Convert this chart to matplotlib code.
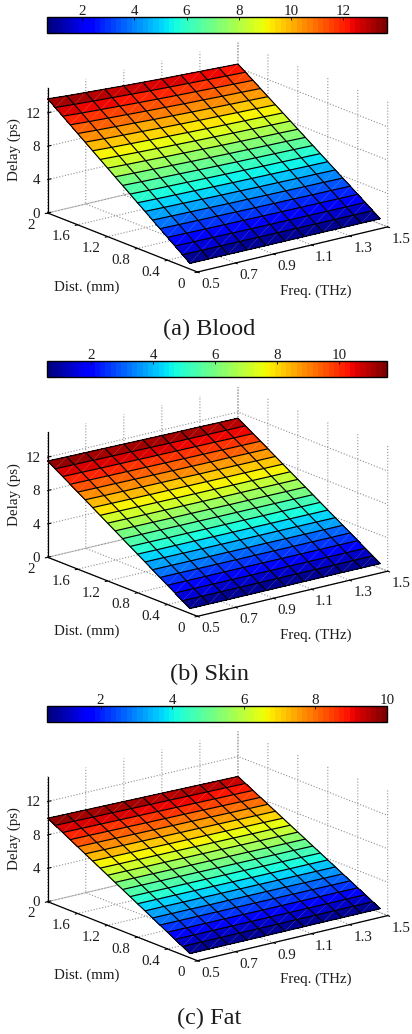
import numpy as np
import matplotlib
matplotlib.use("Agg")
import matplotlib.pyplot as plt
from matplotlib.text import Text
from mpl_toolkits.mplot3d import proj3d

plt.rcParams['font.family'] = ['Liberation Serif', 'DejaVu Serif']
plt.rcParams['grid.linestyle'] = ':'
plt.rcParams['grid.linewidth'] = 0.8
plt.rcParams['grid.color'] = '#909090'

freq_thz = [0.5, 0.6, 0.7, 0.8, 0.9, 1.0, 1.1, 1.2, 1.3, 1.4, 1.5]
dist_mm = [0.1, 0.2, 0.3, 0.4, 0.5, 0.6, 0.7, 0.8, 0.9, 1.0, 1.1, 1.2, 1.3, 1.4, 1.5, 1.6, 1.7, 1.8, 1.9, 2.0]

delay_blood = [
[.68,.68,.67,.66,.65,.65,.64,.64,.63,.63,.62],
[1.37,1.35,1.34,1.32,1.31,1.30,1.28,1.27,1.26,1.25,1.24],
[2.05,2.03,2.00,1.98,1.96,1.94,1.93,1.91,1.90,1.88,1.87],
[2.74,2.70,2.67,2.64,2.62,2.59,2.57,2.55,2.53,2.51,2.49],
[3.42,3.38,3.34,3.31,3.27,3.24,3.21,3.19,3.16,3.14,3.11],
[4.10,4.05,4.01,3.97,3.92,3.89,3.85,3.82,3.79,3.76,3.73],
[4.79,4.73,4.68,4.63,4.58,4.54,4.49,4.46,4.42,4.39,4.35],
[5.47,5.40,5.34,5.29,5.23,5.18,5.14,5.10,5.06,5.02,4.98],
[6.16,6.08,6.01,5.95,5.89,5.83,5.78,5.73,5.69,5.64,5.60],
[6.84,6.75,6.68,6.61,6.54,6.48,6.42,6.37,6.32,6.27,6.22],
[7.52,7.43,7.35,7.27,7.19,7.13,7.06,7.01,6.95,6.90,6.84],
[8.21,8.10,8.02,7.93,7.85,7.78,7.70,7.64,7.58,7.52,7.46],
[8.89,8.78,8.68,8.59,8.50,8.42,8.35,8.28,8.22,8.15,8.09],
[9.58,9.45,9.35,9.25,9.16,9.07,8.99,8.92,8.85,8.78,8.71],
[10.26,10.13,10.02,9.92,9.81,9.72,9.63,9.56,9.48,9.41,9.33],
[10.94,10.80,10.69,10.58,10.46,10.37,10.27,10.19,10.11,10.03,9.95],
[11.63,11.48,11.36,11.24,11.12,11.02,10.91,10.83,10.74,10.66,10.57],
[12.31,12.15,12.02,11.90,11.77,11.66,11.56,11.47,11.38,11.29,11.20],
[13.00,12.83,12.69,12.56,12.43,12.31,12.20,12.10,12.01,11.91,11.82],
[13.68,13.50,13.36,13.22,13.08,12.96,12.84,12.74,12.64,12.54,12.44],
]
delay_skin = [
[.58,.58,.57,.57,.57,.57,.57,.57,.57,.56,.56],
[1.15,1.15,1.15,1.14,1.14,1.14,1.14,1.13,1.13,1.13,1.13],
[1.73,1.73,1.72,1.72,1.71,1.71,1.70,1.70,1.70,1.69,1.69],
[2.31,2.30,2.29,2.29,2.28,2.28,2.27,2.27,2.26,2.26,2.25],
[2.89,2.88,2.87,2.86,2.85,2.85,2.84,2.83,2.83,2.82,2.82],
[3.46,3.45,3.44,3.43,3.42,3.41,3.41,3.40,3.39,3.38,3.38],
[4.04,4.03,4.01,4.00,3.99,3.98,3.97,3.97,3.96,3.95,3.94],
[4.62,4.60,4.59,4.58,4.56,4.55,4.54,4.53,4.52,4.51,4.50],
[5.19,5.18,5.16,5.15,5.13,5.12,5.11,5.10,5.09,5.08,5.07],
[5.77,5.75,5.74,5.72,5.71,5.69,5.68,5.67,5.66,5.64,5.63],
[6.35,6.33,6.31,6.29,6.28,6.26,6.24,6.23,6.22,6.20,6.19],
[6.92,6.90,6.88,6.86,6.85,6.83,6.81,6.80,6.79,6.77,6.76],
[7.50,7.48,7.46,7.44,7.42,7.40,7.38,7.36,7.35,7.33,7.32],
[8.08,8.05,8.03,8.01,7.99,7.97,7.95,7.93,7.92,7.90,7.88],
[8.66,8.63,8.60,8.58,8.56,8.54,8.51,8.50,8.48,8.46,8.45],
[9.23,9.20,9.18,9.15,9.13,9.10,9.08,9.06,9.05,9.02,9.01],
[9.81,9.78,9.75,9.72,9.70,9.67,9.65,9.63,9.61,9.59,9.57],
[10.39,10.35,10.32,10.30,10.27,10.24,10.22,10.20,10.18,10.15,10.13],
[10.96,10.93,10.90,10.87,10.84,10.81,10.78,10.76,10.74,10.72,10.70],
[11.54,11.50,11.47,11.44,11.41,11.38,11.35,11.33,11.31,11.28,11.26],
]
delay_fat = [
[.50,.50,.50,.49,.49,.49,.49,.49,.48,.48,.48],
[1.00,1.00,.99,.99,.98,.98,.98,.97,.97,.96,.96],
[1.50,1.49,1.49,1.48,1.48,1.47,1.46,1.46,1.45,1.45,1.44],
[2.00,1.99,1.98,1.98,1.97,1.96,1.95,1.94,1.94,1.93,1.92],
[2.50,2.49,2.48,2.47,2.46,2.45,2.44,2.43,2.42,2.41,2.40],
[3.00,2.99,2.98,2.96,2.95,2.94,2.93,2.92,2.90,2.89,2.88],
[3.50,3.49,3.47,3.46,3.44,3.43,3.42,3.40,3.39,3.37,3.36],
[4.00,3.98,3.97,3.95,3.94,3.92,3.90,3.89,3.87,3.86,3.84],
[4.50,4.48,4.46,4.45,4.43,4.41,4.39,4.37,4.36,4.34,4.32],
[5.00,4.98,4.96,4.94,4.92,4.90,4.88,4.86,4.84,4.82,4.80],
[5.50,5.48,5.46,5.43,5.41,5.39,5.37,5.35,5.32,5.30,5.28],
[6.00,5.98,5.95,5.93,5.90,5.88,5.86,5.83,5.81,5.78,5.76],
[6.50,6.47,6.45,6.42,6.40,6.37,6.34,6.32,6.29,6.27,6.24],
[7.00,6.97,6.94,6.92,6.89,6.86,6.83,6.80,6.78,6.75,6.72],
[7.50,7.47,7.44,7.41,7.38,7.35,7.32,7.29,7.26,7.23,7.20],
[8.00,7.97,7.94,7.90,7.87,7.84,7.81,7.78,7.74,7.71,7.68],
[8.50,8.47,8.43,8.40,8.36,8.33,8.30,8.26,8.23,8.19,8.16],
[9.00,8.96,8.93,8.89,8.86,8.82,8.78,8.75,8.71,8.68,8.64],
[9.50,9.46,9.42,9.39,9.35,9.31,9.27,9.23,9.20,9.16,9.12],
[10.00,9.96,9.92,9.88,9.84,9.80,9.76,9.72,9.68,9.64,9.60],
]
panels = ["(a) Blood", "(b) Skin", "(c) Fat"]
cbar_ticks = [[2, 4, 6, 8, 10, 12], [2, 4, 6, 8, 10], [2, 4, 6, 8, 10]]
cbar_limits = [(0.656, 13.68), (0.576, 11.54), (0.506, 10.0)]
freq_ticks = [0.5, 0.7, 0.9, 1.1, 1.3, 1.5]
dist_ticks = [0, 0.4, 0.8, 1.2, 1.6, 2]
delay_ticks = [0, 4, 8, 12]
dist_tick_labels = ["0", "0.4", "0.8", "1.2", "1.6", "2"]

W, H = 412, 1034
FS = 10.8
TXT = '#1c1c1c'
fig = plt.figure(figsize=(W / 100, H / 100), dpi=100)
cmap = plt.get_cmap('jet', 64)

# layout, in pixels from the top left of the figure
anchor_y = [213.0, 557.3, 901.7]
cbar_top = [17, 361, 706]
caption_y = [329.5, 674, 1018.5]
anchor_x = 47.7
span_x = 340.0


def to_px(ax, x, y, z):
    px, py, _ = proj3d.proj_transform(x, y, z, ax.get_proj())
    return ax.transData.transform((px, py))


def nudge(ax, t, dx, dy):
    """mplot3d sets label positions at every draw; add a pixel offset to them."""
    o = ax.transData.transform((0, 0))
    sx = ax.transData.transform((1, 0))[0] - o[0]
    sy = ax.transData.transform((0, 1))[1] - o[1]
    t.set_position = lambda xy: Text.set_position(t, (xy[0] + dx / sx, xy[1] + dy / sy))


def move_label(ax, lab, cx, cy_top):
    fig.canvas.draw()
    bb = lab.get_window_extent()
    mx, my = 0.5 * (bb.x0 + bb.x1), 0.5 * (bb.y0 + bb.y1)
    nudge(ax, lab, cx - mx, (H - cy_top) - my)


for i, (Z, title) in enumerate(zip([delay_blood, delay_skin, delay_fat], panels)):
    ax = fig.add_axes([0.0, 0.0, 0.8, 0.3], projection='3d', computed_zorder=False)
    ax.set_proj_type('ortho')
    ax.view_init(elev=17.8, azim=-127.8)
    ax.set_box_aspect((240.5, 244, 131.3))
    ax.set_xlim(0.5, 1.5, view_margin=0)
    ax.set_ylim(0, 2, view_margin=0)
    ax.set_zlim(0, 15, view_margin=0)
    ax.patch.set_alpha(0)

    X, Y = np.meshgrid(freq_thz, dist_mm)
    Zv = np.array(Z)
    vmin, vmax = cbar_limits[i]
    surf = ax.plot_surface(X, Y, Zv, rstride=1, cstride=1, cmap=cmap, vmin=vmin, vmax=vmax,
                           linewidth=0, shade=False, antialiased=False, zorder=2)
    # faint seam across every cell
    for r in range(Zv.shape[0] - 1):
        for c in range(Zv.shape[1] - 1):
            ax.plot([X[r, c], X[r + 1, c + 1]], [Y[r, c], Y[r + 1, c + 1]], [Zv[r, c], Zv[r + 1, c + 1]],
                    color='white', lw=0.3, alpha=0.3, zorder=3)
    ax.plot_wireframe(X, Y, Zv, rstride=1, cstride=1, color='black', linewidth=0.85, zorder=4)

    ax.set_xticks(freq_ticks)
    ax.set_xticklabels([f"{v:.1f}" for v in freq_ticks], fontsize=FS, color=TXT)
    ax.set_yticks(dist_ticks)
    ax.set_yticklabels(dist_tick_labels, fontsize=FS, color=TXT)
    ax.set_zticks(delay_ticks)
    ax.set_zticklabels([str(v) for v in delay_ticks], fontsize=FS, color=TXT)
    ax.tick_params(axis='x', pad=0)
    ax.tick_params(axis='y', pad=0)
    ax.tick_params(axis='z', pad=0)
    for a in (ax.xaxis, ax.yaxis, ax.zaxis):
        a.set_pane_color((1, 1, 1, 0))
        a.pane.set_edgecolor('none')
        a.line.set_color('black')
        a.line.set_linewidth(0.9)
        a.set_rotate_label(False)
    ax.xaxis._axinfo['tick'].update(inward_factor=0.15, outward_factor=0.0)
    ax.yaxis._axinfo['tick'].update(inward_factor=0.15, outward_factor=0.0)
    ax.zaxis._axinfo['tick'].update(inward_factor=0.0, outward_factor=0.2)
    ax.set_xlabel("Freq. (THz)", fontsize=FS, color=TXT, labelpad=0)
    ax.set_ylabel("Dist. (mm)", fontsize=FS, color=TXT, labelpad=0)
    ax.set_zlabel("Delay (ps)", fontsize=FS, color=TXT, rotation=90, labelpad=0)

    # fit the box to the reference pixels
    fig.canvas.draw()
    a0 = to_px(ax, 0.5, 2, 0)
    a1 = to_px(ax, 1.5, 0, 0)
    k = span_x / (a1[0] - a0[0])
    p = ax.get_position()
    ax.set_position([p.x0, p.y0, p.width * k, p.height * k])
    fig.canvas.draw()
    a0 = to_px(ax, 0.5, 2, 0)
    p = ax.get_position()
    ax.set_position([p.x0 + (anchor_x - a0[0]) / W, p.y0 + ((H - anchor_y[i]) - a0[1]) / H, p.width, p.height])
    fig.canvas.draw()

    off = anchor_y[i] - anchor_y[0]
    move_label(ax, ax.xaxis.label, 316, 291 + off)
    move_label(ax, ax.yaxis.label, 87, 287 + off)
    move_label(ax, ax.zaxis.label, 14.5, 150 + off)

    for t in ax.xaxis.get_major_ticks():
        nudge(ax, t.label1, 4, 5)
    for t in ax.yaxis.get_major_ticks():
        nudge(ax, t.label1, -5, 4.5)
    for t in ax.zaxis.get_major_ticks():
        t.label1.set_ha('right')
        nudge(ax, t.label1, 13, 4.5)

    cax = fig.add_axes([47 / W, 1 - (cbar_top[i] + 15.5) / H, 340 / W, 15.5 / H])
    cb = fig.colorbar(surf, cax=cax, orientation='horizontal', ticks=cbar_ticks[i])
    cax.xaxis.set_ticks_position('top')
    cax.tick_params(axis='x', direction='in', length=2.5, width=0.6, labelsize=FS, labelcolor=TXT, pad=-1, color='black')
    cb.outline.set_linewidth(1.0)
    cb.minorticks_off()

    fig.text(209.5 / W, 1 - caption_y[i] / H, title, ha='center', va='center', fontsize=17.5, color=TXT)

fig.savefig("out.png", dpi=100)
